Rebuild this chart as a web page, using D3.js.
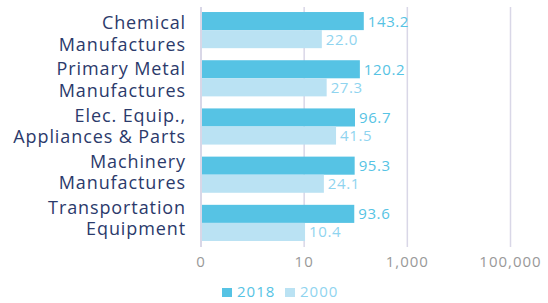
<!DOCTYPE html>
<html><head><meta charset="utf-8">
<script src="https://cdn.jsdelivr.net/npm/d3@7"></script>
<style>body{margin:0;background:#fff}svg{display:block}</style>
</head><body>
<svg id="c" width="548" height="303"></svg>
<script>
const categories = [["Chemical","Manufactures"],["Primary Metal","Manufactures"],["Elec. Equip.,","Appliances & Parts"],["Machinery","Manufactures"],["Transportation","Equipment"]];
const values2018 = [143.2,120.2,96.7,95.3,93.6];
const values2000 = [22.0,27.3,41.5,24.1,10.4];
const tickValues = [0.1,10,1000,100000];
const tickLabels = ["0","10","1,000","100,000"];
const seriesNames = ["2018","2000"];
const barColors = ["#56c3e4","#bae2f3"];
const textColors = ["#56c3e4","#8fd4ef"];
const font = "'Open Sans', sans-serif";

const svg = d3.select("#c");
const x = d3.scaleLog().domain([0.1,100000]).range([201,510.5]);
const idx = d3.range(categories.length);
const y = d3.scaleBand().domain(idx).range([6,247]).paddingInner(0.25).paddingOuter(0.125);
const ySub = d3.scaleBand().domain([0,1]).range([0,y.bandwidth()]);
const yLab = d3.scalePoint().domain(idx).range([40.2,224.5]);

// gridlines
svg.append("g").selectAll("line").data(tickValues.slice(1)).join("line")
  .attr("x1",d=>x(d)).attr("x2",d=>x(d)).attr("y1",7).attr("y2",247)
  .attr("stroke","#d9d7e7").attr("stroke-width",1.5);

const series = [values2018, values2000];
series.forEach((vals,s)=>{
  const g = svg.append("g");
  g.selectAll("rect").data(vals).join("rect")
    .attr("x",x(0.1)).attr("y",(d,i)=>y(i)+ySub(s))
    .attr("width",d=>x(d)-x(0.1)).attr("height",ySub.bandwidth())
    .attr("fill",barColors[s]);
  g.selectAll("text").data(vals).join("text")
    .attr("x",d=>x(d)+4).attr("y",(d,i)=>y(i)+ySub(s)+ySub.bandwidth()/2)
    .attr("dy","0.37em").attr("font-family",font).attr("font-size",15)
    .attr("letter-spacing","0.6px")
    .attr("fill",textColors[s]).text(d=>d.toFixed(1));
});

// axis line
svg.append("line").attr("x1",x(0.1)).attr("x2",x(0.1)).attr("y1",7).attr("y2",247)
  .attr("stroke","#d9d7e7").attr("stroke-width",2);

// tick labels
svg.append("g").selectAll("text").data(tickValues).join("text")
  .attr("x",d=>x(d)).attr("y",267).attr("text-anchor","middle")
  .attr("font-family",font).attr("font-size",15).attr("letter-spacing","1px").attr("fill","#999999")
  .text((d,i)=>tickLabels[i]);

// category labels
const lab = svg.append("g").selectAll("text").data(categories).join("text")
  .attr("text-anchor","end").attr("font-family",font).attr("font-size",18)
  .attr("letter-spacing","0.9px").attr("fill","#2b3a6b");
lab.each(function(d,i){
  const t = d3.select(this);
  d.forEach((line,k)=>{
    t.append("tspan").attr("x",186).attr("y",yLab(i)+(k===0?-10.8:10.8)).text(line);
  });
});

// legend
const leg = svg.append("g");
const legX = [222,285];
seriesNames.forEach((n,s)=>{
  leg.append("rect").attr("x",legX[s]).attr("y",288).attr("width",10).attr("height",9).attr("fill",barColors[s]);
  leg.append("text").attr("x",legX[s]+15).attr("y",297).attr("font-family",font).attr("font-size",15)
    .attr("letter-spacing","1px").attr("fill",textColors[s]).text(n);
});
</script>
</body></html>
